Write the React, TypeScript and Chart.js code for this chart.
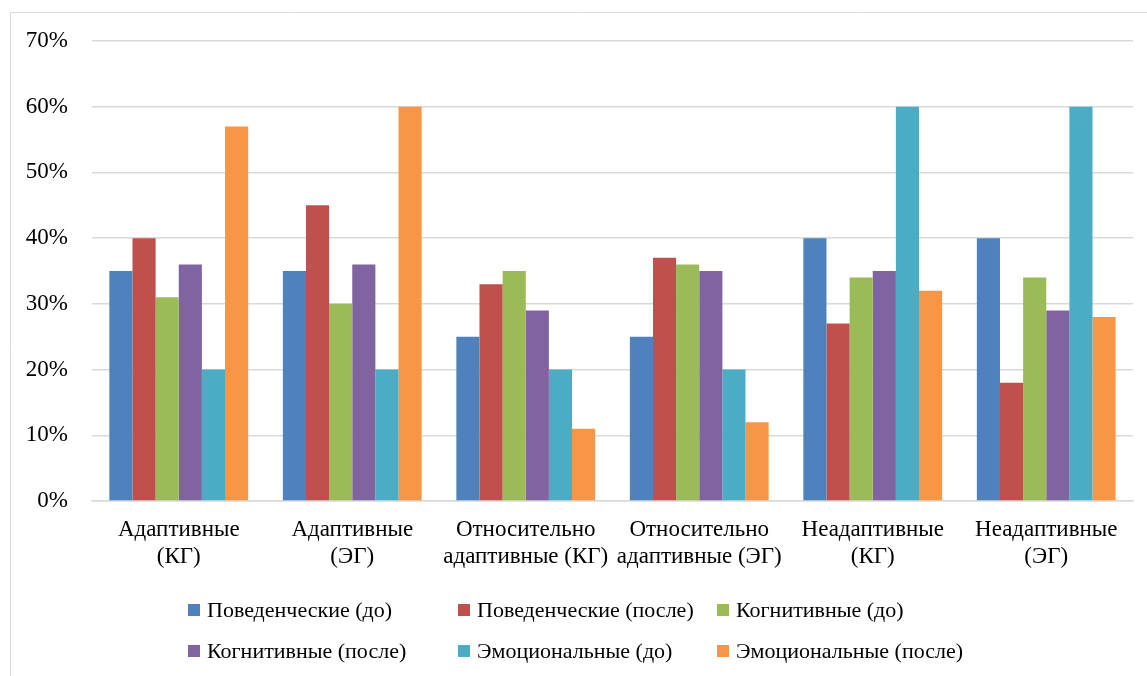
import React, { useEffect, useRef } from "react";
import { Chart, registerables } from "chart.js";

Chart.register(...registerables);

const categories: string[][] = [
  ["Адаптивные", "(КГ)"],
  ["Адаптивные", "(ЭГ)"],
  ["Относительно", "адаптивные (КГ)"],
  ["Относительно", "адаптивные (ЭГ)"],
  ["Неадаптивные", "(КГ)"],
  ["Неадаптивные", "(ЭГ)"],
];

const seriesNames = [
  "Поведенческие (до)",
  "Поведенческие (после)",
  "Когнитивные (до)",
  "Когнитивные (после)",
  "Эмоциональные (до)",
  "Эмоциональные (после)",
];

const behaviouralBefore = [35, 35, 25, 25, 40, 40];
const behaviouralAfter = [40, 45, 33, 37, 27, 18];
const cognitiveBefore = [31, 30, 35, 36, 34, 34];
const cognitiveAfter = [36, 36, 29, 35, 35, 29];
const emotionalBefore = [20, 20, 20, 20, 60, 60];
const emotionalAfter = [57, 60, 11, 12, 32, 28];

const seriesValues = [
  behaviouralBefore,
  behaviouralAfter,
  cognitiveBefore,
  cognitiveAfter,
  emotionalBefore,
  emotionalAfter,
];

const seriesColors = ["#4F81BD", "#C0504D", "#9BBB59", "#8064A2", "#4BACC6", "#F79646"];

const yMax = 70;
const yStep = 10;

const FONT_FAMILY = '"Liberation Serif", "Times New Roman", serif';
const AXIS_FONT_SIZE = 23;
const LEGEND_FONT_SIZE = 22;
const LEGEND_COLS = [188, 458, 717];
const LEGEND_ROWS = [610, 651];

const framePlugin = {
  id: "frame",
  beforeDraw(chart: any) {
    const ctx = chart.ctx;
    ctx.save();
    ctx.strokeStyle = "#d9d9d9";
    ctx.lineWidth = 1;
    ctx.beginPath();
    ctx.moveTo(10.5, chart.height);
    ctx.lineTo(10.5, 12.5);
    ctx.lineTo(chart.width, 12.5);
    ctx.stroke();
    ctx.restore();
  },
};

const legendPlugin = {
  id: "gridLegend",
  afterDraw(chart: any) {
    const ctx = chart.ctx;
    ctx.save();
    ctx.font = `${LEGEND_FONT_SIZE}px ${FONT_FAMILY}`;
    ctx.textBaseline = "middle";
    ctx.textAlign = "left";
    chart.data.datasets.forEach((ds: any, i: number) => {
      const x = LEGEND_COLS[i % 3];
      const y = LEGEND_ROWS[Math.floor(i / 3)];
      ctx.fillStyle = ds.backgroundColor;
      ctx.fillRect(x, y - 6, 12, 12);
      ctx.fillStyle = "#000";
      ctx.fillText(ds.label, x + 19, y + 1);
    });
    ctx.restore();
  },
};

export default function App() {
  const canvasRef = useRef<HTMLCanvasElement | null>(null);

  useEffect(() => {
    document.body.style.margin = "0";
    if (!canvasRef.current) return;
    const chart = new Chart(canvasRef.current, {
      type: "bar",
      data: {
        labels: categories,
        datasets: seriesNames.map((name, i) => ({
          label: name,
          data: seriesValues[i],
          backgroundColor: seriesColors[i],
          borderWidth: 0,
          categoryPercentage: 0.8,
          barPercentage: 1.0,
        })),
      },
      options: {
        animation: false,
        responsive: true,
        maintainAspectRatio: false,
        layout: { padding: { left: 0, right: 14, top: 41, bottom: 100 } },
        plugins: {
          legend: { display: false },
          tooltip: { enabled: false },
        },
        scales: {
          x: {
            grid: { display: false, drawTicks: false },
            border: { display: true, color: "#d9d9d9", width: 1.5 },
            ticks: {
              color: "#000",
              font: { family: FONT_FAMILY, size: AXIS_FONT_SIZE, lineHeight: 1.2 },
              padding: 15,
              autoSkip: false,
              maxRotation: 0,
              minRotation: 0,
            },
            afterFit(scale: any) {
              scale.height = 75;
            },
          },
          y: {
            min: 0,
            max: yMax,
            grid: { color: "#d9d9d9", lineWidth: 1.5, drawTicks: false },
            border: { display: false },
            ticks: {
              stepSize: yStep,
              color: "#000",
              padding: 24,
              font: { family: FONT_FAMILY, size: AXIS_FONT_SIZE },
              callback: (v: any) => `${v}%`,
            },
            afterFit(scale: any) {
              scale.width = 92;
            },
          },
        },
      },
      plugins: [framePlugin, legendPlugin],
    });
    return () => chart.destroy();
  }, []);

  return (
    <div style={{ position: "absolute", left: 0, top: 0, width: 1147, height: 676, background: "#fff" }}>
      <canvas ref={canvasRef} />
    </div>
  );
}
